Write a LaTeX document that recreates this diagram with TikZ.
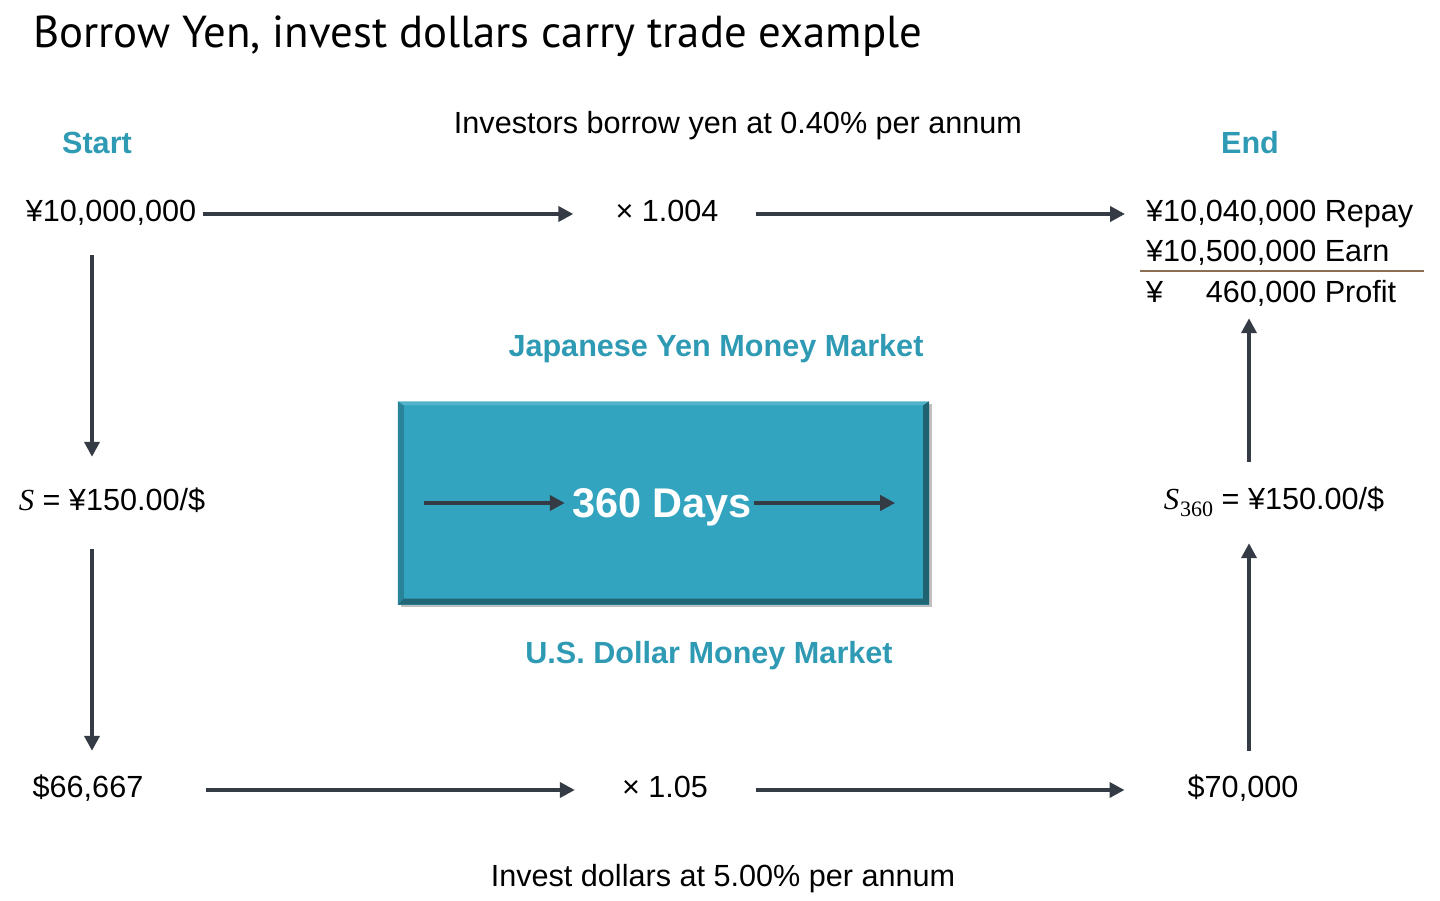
\documentclass[tikz,border=0pt]{standalone}
\usepackage{fontspec}
\setmainfont{Liberation Sans}
\newfontfamily\titlefont{PT Sans}
\newfontfamily\symserif{Liberation Serif}
\usetikzlibrary{arrows.meta,positioning,calc}
\definecolor{jpteal}{HTML}{2F9AB4}
\definecolor{boxteal}{HTML}{33A4BF}
\definecolor{arrowgray}{HTML}{353B45}
\definecolor{rulebrown}{HTML}{8C6E55}
\newcommand\spotsym{{\symserif\itshape S}}
\begin{document}
\begin{tikzpicture}
[x=1pt,y=-1pt,
txt/.style={font=\fontsize{30.6}{36}\selectfont,inner sep=0pt,text height=22pt,text depth=0pt},
head/.style={txt,font=\fontsize{30.6}{36}\selectfont\bfseries,text=jpteal},
flow/.style={arrowgray,line width=4pt,-{Triangle[length=15pt,width=15pt]}},
daybox/.style={fill=boxteal,minimum width=531pt,minimum height=203pt,inner sep=0pt}]
%%%%%%%%%%
\useasboundingbox (0,0) rectangle (1440,901);

\node[anchor=base west,inner sep=0pt,font=\titlefont\fontsize{44.8}{54}\selectfont] (title) at (33,48) {Borrow Yen, invest dollars carry trade example};

\node[head] (start) at (97,143) {Start};
\node[head] (end) at (1250,143) {End};
\node[txt] (borrow) at (738,123) {Investors borrow yen at 0.40\% per annum};
\node[txt] (yen0) at (111,211) {¥10,000,000};
\node[txt] (mulyen) at (667,211) {× 1.004};
\node[txt,anchor=west] (repay) at (1146,211) {¥10,040,000 Repay};
\node[txt,anchor=west] (earn) at (1146,251) {¥10,500,000 Earn};
\node[txt,anchor=west] (profit) at (1146,291) {¥\phantom{10,}460,000 Profit};
\draw[rulebrown,line width=2pt] ([xshift=-6pt,yshift=-9pt]earn.south west) -- ++(284,0);

\node[head] (jpmm) at (716,345) {Japanese Yen Money Market};
\fill[black!25] (401,404) rectangle (932,607);
\node[daybox] (box) at (663.5,503) {};
\fill[boxteal!80!black] (box.north west) -- ++(6,4) -- ($(box.south west)+(6,-6)$) -- (box.south west) -- cycle;
\fill[boxteal!85!white] (box.north west) -- (box.north east) -- ++(-6,4) -- ($(box.north west)+(6,4)$) -- cycle;
\fill[boxteal!60!black] (box.north east) -- (box.south east) -- ++(-6,-6) -- ($(box.north east)+(-6,4)$) -- cycle;
\fill[boxteal!62!black] (box.south west) -- (box.south east) -- ++(-6,-6) -- ($(box.south west)+(6,-6)$) -- cycle;
\node[txt,font=\fontsize{41.5}{48}\selectfont\bfseries,text=white,text height=29.7pt] (days) at (662,503) {360 Days};
\draw[flow,shorten <=26pt,shorten >=7pt] (box.west) -- (days.west);
\draw[flow,shorten <=2pt,shorten >=34pt] (days.east) -- (box.east);
\node[head] (usmm) at (709,652) {U.S. Dollar Money Market};

\node[txt] (spot) at (112,499) {\spotsym{} = ¥150.00/\$};
\node[txt] (spotend) at (1274,498) {\spotsym\kern1pt\raisebox{-7pt}{\symserif\fontsize{22}{24}\selectfont 360} = ¥150.00/\$};
\node[txt] (usd0) at (88,786) {\$66,667};
\node[txt] (mulusd) at (665,786) {× 1.05};
\node[txt] (usd1) at (1243,786) {\$70,000};
\node[txt] (invest) at (723,875) {Invest dollars at 5.00\% per annum};

\coordinate (colL) at (92,0);
\coordinate (colR) at (1249,0);
\draw[flow,shorten <=7pt,shorten >=42pt] ([yshift=-3pt]yen0.east) -- ([yshift=-3pt]mulyen.west);
\draw[flow,shorten <=37pt,shorten >=21pt] ([yshift=-3pt]mulyen.east) -- ([yshift=-3pt]repay.west);
\draw[flow,shorten <=62pt,shorten >=47pt] ([yshift=-4pt]usd0.east) -- ([yshift=-4pt]mulusd.west);
\draw[flow,shorten <=48pt,shorten >=63pt] ([yshift=-4pt]mulusd.east) -- ([yshift=-4pt]usd1.west);
\draw[flow,shorten <=33pt,shorten >=31pt] (yen0.south -| colL) -- (spot.north -| colL);
\draw[flow,shorten <=39pt,shorten >=24pt] (spot.south -| colL) -- (usd0.north -| colL);
\draw[flow,shorten <=24pt,shorten >=34pt] (usd1.north -| colR) -- (spotend.south -| colR);
\draw[flow,shorten <=25pt,shorten >=16pt] (spotend.north -| colR) -- (profit.south -| colR);
\end{tikzpicture}
\end{document}
